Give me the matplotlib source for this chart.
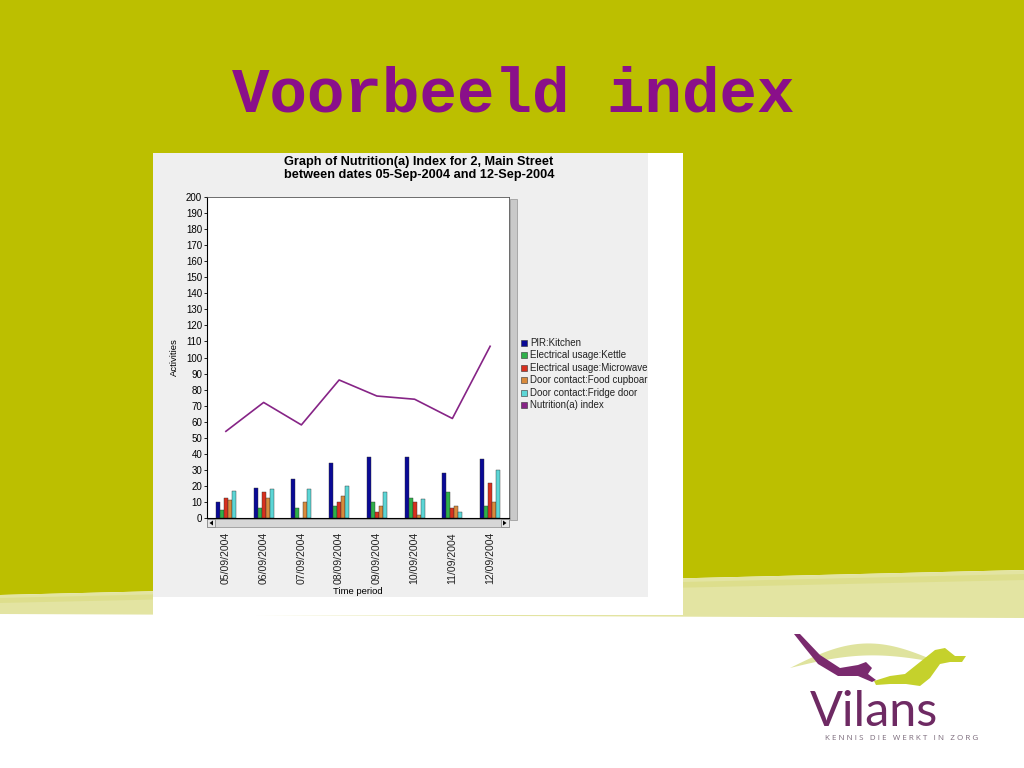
import matplotlib
matplotlib.use("Agg")
import matplotlib.pyplot as plt
import numpy as np
from matplotlib.patches import Rectangle, Polygon

# ---------------- data ----------------
dates = ["05/09/2004", "06/09/2004", "07/09/2004", "08/09/2004",
         "09/09/2004", "10/09/2004", "11/09/2004", "12/09/2004"]
pir_kitchen = [10, 19, 24, 34, 38, 38, 28, 37]
kettle = [5, 6, 6, 7.5, 10, 12.5, 16, 7.5]
microwave = [12.5, 16, 0, 10, 4, 10, 6, 22]
food_cupboard = [11, 12.5, 10, 14, 7.5, 2, 7.5, 10]
fridge_door = [17, 18, 18, 20, 16, 12, 4, 30]
nutrition_index = [54, 72, 58, 86, 76, 74, 62, 107]

series_names = ["PIR:Kitchen", "Electrical usage:Kettle", "Electrical usage:Microwave",
                "Door contact:Food cupboar", "Door contact:Fridge door"]
series_colors = ["#0a0a96", "#2fb04a", "#d8301e", "#d98a3c", "#5cd6d6"]
line_name = "Nutrition(a) index"
line_color = "#862486"
y_ticks = list(range(0, 201, 10))

W, H = 1024, 768
fig = plt.figure(figsize=(W / 100, H / 100), dpi=100)
fig.patch.set_facecolor("white")

# background axes in pixel coords
bg = fig.add_axes([0, 0, 1, 1], zorder=0)
bg.set_xlim(0, W)
bg.set_ylim(H, 0)
bg.axis("off")

olive = "#bcbf00"
bg.add_patch(Polygon([(0, 0), (W, 0), (W, 570), (0, 595)], closed=True, color=olive, lw=0))
bg.add_patch(Polygon([(0, 595), (W, 570), (W, 618), (0, 614)], closed=True, color="#e3e4a2", lw=0))
bg.add_patch(Polygon([(0, 598), (W, 574), (W, 580), (0, 603)], closed=True, color="#d9db7e", lw=0, alpha=0.6))

# chart panel
bg.add_patch(Rectangle((153, 153), 683 - 153, 615 - 153, color="white", lw=0))
bg.add_patch(Rectangle((153, 153), 648 - 153, 597 - 153, color="#efefef", lw=0))

# scrollbars
bg.add_patch(Rectangle((510, 199), 7, 321, facecolor="#c9c9c9", edgecolor="#a0a0a0", lw=0.6, zorder=3))
bg.add_patch(Rectangle((207, 519), 302, 8, facecolor="#d6d6d6", edgecolor="#9a9a9a", lw=0.6, zorder=3))
bg.add_patch(Rectangle((207, 519), 8, 8, facecolor="#e6e6e6", edgecolor="#8a8a8a", lw=0.6, zorder=4))
bg.add_patch(Rectangle((501, 519), 8, 8, facecolor="#e6e6e6", edgecolor="#8a8a8a", lw=0.6, zorder=4))
bg.add_patch(Polygon([(213, 520.5), (213, 525.5), (209.5, 523)], closed=True, color="black", lw=0, zorder=5))
bg.add_patch(Polygon([(503, 520.5), (503, 525.5), (506.5, 523)], closed=True, color="black", lw=0, zorder=5))

# slide title
bg.text(513, 95, "Voorbeeld index", ha="center", va="center", fontsize=45,
        fontweight="bold", family="Liberation Mono", color="#8a0f8a")

# chart title
bg.text(419, 162, "Graph of Nutrition(a) Index for 2, Main Street", ha="center", va="center",
        fontsize=9.2, fontweight="bold", family="Liberation Sans", color="black")
bg.text(419, 175, "between dates 05-Sep-2004 and 12-Sep-2004", ha="center", va="center",
        fontsize=9.2, fontweight="bold", family="Liberation Sans", color="black")

# ---------------- chart ----------------
ax = fig.add_axes([207 / W, 1 - 518 / H, 302 / W, 321 / H], zorder=2)
ax.set_facecolor("white")
x = np.arange(len(dates))
bw = 0.106
all_series = [pir_kitchen, kettle, microwave, food_cupboard, fridge_door]
for i, (vals, col) in enumerate(zip(all_series, series_colors)):
    ax.bar(x + (i - 2) * bw, vals, width=bw, color=col, edgecolor="#303030", linewidth=0.3, zorder=2)
ax.plot(x, nutrition_index, color=line_color, lw=1.2, zorder=3)

ax.set_xlim(-0.5, len(dates) - 0.5)
ax.set_ylim(0, 200)
ax.set_yticks(y_ticks)
ax.set_yticklabels([str(v) for v in y_ticks], fontsize=7.0, family="Liberation Sans")
ax.tick_params(axis="y", length=2.5, width=0.6, pad=1)
ax.set_xticks(x)
ax.set_xticklabels(dates, rotation=90, fontsize=7.6, family="Liberation Sans", color="#222222")
ax.tick_params(axis="x", length=0, pad=10)
for s in ["left", "bottom"]:
    ax.spines[s].set_color("black")
    ax.spines[s].set_linewidth(0.8)
for s in ["top", "right"]:
    ax.spines[s].set_color("#555555")
    ax.spines[s].set_linewidth(0.6)
ax.set_ylabel("Activities", fontsize=6.8, family="Liberation Sans", labelpad=5)
ax.set_xlabel("Time period", fontsize=6.8, family="Liberation Sans", labelpad=2)

# legend (drawn manually in pixel coords)
leg_y0 = 343
leg_dy = 12.4
leg_colors = series_colors + [line_color]
leg_names = series_names + [line_name]
for k, (nm, col) in enumerate(zip(leg_names, leg_colors)):
    yy = leg_y0 + k * leg_dy
    bg.add_patch(Rectangle((520.5, yy - 3), 6, 6, facecolor=col, edgecolor="#333333", lw=0.4, zorder=3))
    bg.text(530, yy, nm, ha="left", va="center", fontsize=7.0, family="Liberation Sans",
            color="#222222", zorder=3)

# ---------------- logo ----------------
arc_t = np.linspace(0, 1, 40)
arc_x_top = 790 + 150 * arc_t
arc_y_top = 668 - 22 * np.sin(np.pi * arc_t) - 5 * arc_t
arc_x_bot = 940 - 150 * arc_t
arc_y_bot = 663 - 10 * np.sin(np.pi * arc_t[::-1]) + 5 * arc_t
bg.add_patch(Polygon(np.column_stack([np.r_[arc_x_top, arc_x_bot], np.r_[arc_y_top, arc_y_bot]]),
                     closed=True, color="#dfe39e", lw=0))
purple_pts = [(794, 634), (800, 634), (820, 655), (840, 668), (858, 665), (866, 662),
              (872, 668), (868, 674), (876, 680), (872, 682), (858, 676), (838, 676),
              (818, 664), (805, 648)]
bg.add_patch(Polygon(purple_pts, closed=True, color="#7a2a6e", lw=0))
green_pts = [(874, 681), (890, 676), (905, 674), (920, 662), (935, 650), (945, 648),
             (955, 656), (966, 656), (962, 662), (950, 662), (940, 664), (930, 678),
             (920, 686), (906, 684), (890, 684), (876, 685)]
bg.add_patch(Polygon(green_pts, closed=True, color="#c5d12c", lw=0))
bg.text(874, 712, "Vilans", ha="center", va="center", fontsize=35, family="Lato",
        color="#6e2a63")
bg.text(902, 738, "K E N N I S   D I E   W E R K T   I N   Z O R G", ha="center", va="center",
        fontsize=5.8, family="Open Sans", color="#7a6a7a")

fig.savefig("out.png", dpi=100, facecolor=fig.get_facecolor())
